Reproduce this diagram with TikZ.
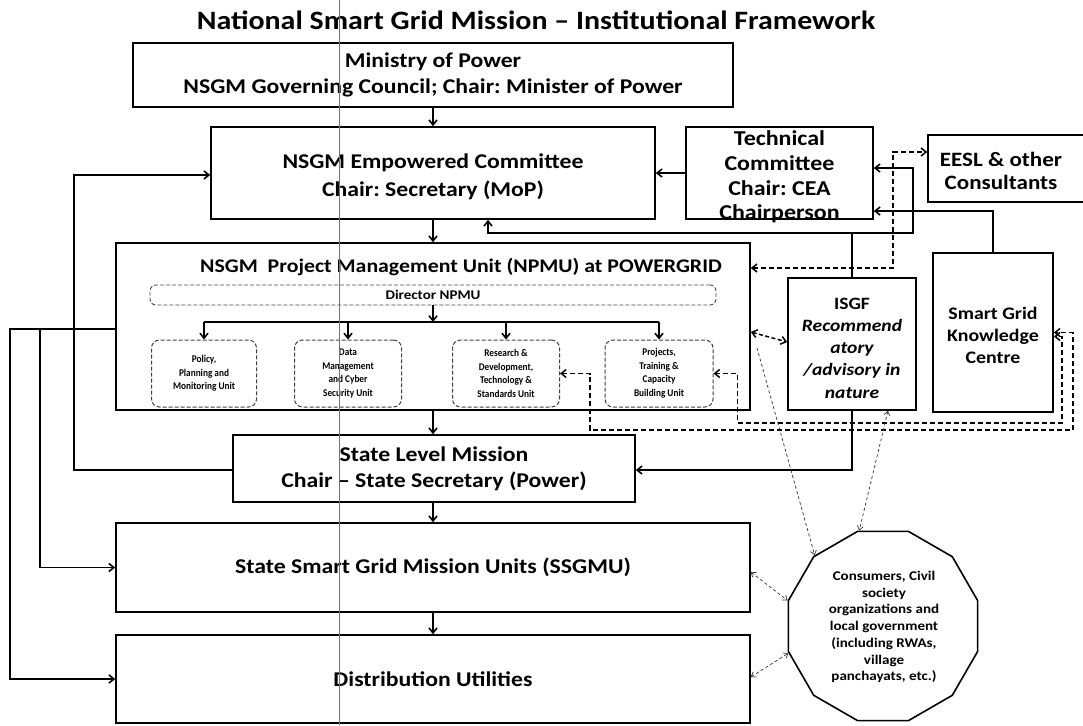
\documentclass[tikz,border=0pt]{standalone}
\usepackage{fontspec}
\setmainfont{Carlito}[FakeStretch=1.13]
\newfontfamily\unitfont{Carlito}[FakeStretch=0.9]
\usetikzlibrary{arrows.meta,shapes.geometric}
\frenchspacing
\begin{document}
\begin{tikzpicture}[x=1pt,y=-1pt,
  box/.style={draw=black, line width=1.6pt, inner sep=0pt, align=center},
  bigtxt/.style={font=\fontsize{21}{26}\selectfont\bfseries},
  unitbox/.style={draw=black!75, dash pattern=on 4pt off 2pt, line width=1pt, rounded corners=8pt, inner sep=0pt, align=center, font=\unitfont\fontsize{10.3}{13.5}\selectfont\bfseries},
  tip/.tip={Straight Barb[length=5pt,width=8pt]},
  smalltip/.tip={Straight Barb[length=4pt,width=6pt]},
  conn/.style={line width=1.6pt, -tip},
  plainline/.style={line width=1.6pt},
  dconn/.style={line width=1.5pt, dash pattern=on 5pt off 3pt, tip-tip},
  dotconn/.style={line width=0.7pt, black!80, dash pattern=on 3pt off 2.5pt, smalltip-smalltip},
  dotone/.style={line width=0.7pt, black!80, dash pattern=on 3pt off 2.5pt, -smalltip},
]
\useasboundingbox (0,0) rectangle (1083,725);
\fill[white] (0,0) rectangle (1083,725);

% title
\node[font=\fontsize{26.5}{30}\selectfont\bfseries] (title) at (536,20) {National Smart Grid Mission – Institutional Framework};

% main boxes
\node[box,bigtxt,minimum width=600,minimum height=64] (mop) at (433,75) {Ministry of Power\\NSGM Governing Council; Chair: Minister of Power};
\node[box,minimum width=444,minimum height=92,
  label={[font=\fontsize{21}{28}\selectfont\bfseries,align=center,yshift=-4pt]center:NSGM Empowered Committee\\Chair: Secretary (MoP)}] (ec) at (433,173) {};
\node[box,minimum width=187,minimum height=92,
  label={[font=\fontsize{21.2}{24.7}\selectfont\bfseries,align=center,yshift=-4pt]center:Technical\\Committee\\Chair: CEA\\Chairperson}] (tc) at (779.5,173) {};
\node[box,minimum width=170,minimum height=67] (eesl) at (1013,168.5) {};
\node[font=\fontsize{20.4}{23}\selectfont\bfseries,align=center] (eesltxt) at (1001,171) {EESL \& other\\Consultants};

% NPMU
\node[box,minimum width=634,minimum height=167] (npmu) at (433,326.5) {};
\node[font=\fontsize{19.3}{22}\selectfont\bfseries] (npmutitle) at (461,267) {NSGM\ \ Project Management Unit (NPMU) at POWERGRID};
\node[draw=black!70, dash pattern=on 4pt off 2pt, line width=0.9pt, rounded corners=6pt, minimum width=566, minimum height=20, inner sep=0pt, font=\fontsize{13.3}{16}\selectfont\bfseries] (dir) at (433,295) {Director NPMU};
\node[unitbox,minimum width=105,minimum height=67] (u1) at (204,373.5) {Policy,\\Planning and\\Monitoring Unit};
\node[unitbox,minimum width=107,minimum height=67] (u2) at (348,373.5) {Data\\Management\\and Cyber\\Security Unit};
\node[unitbox,minimum width=107,minimum height=67] (u3) at (506,373.5) {Research \&\\Development,\\Technology \&\\Standards Unit};
\node[unitbox,minimum width=108,minimum height=67] (u4) at (659,373.5) {Projects,\\Training \&\\Capacity\\Building Unit};

% right side boxes
\node[box,minimum width=128,minimum height=132,
  label={[font=\fontsize{17.3}{22.3}\selectfont\bfseries,align=center,yshift=-4pt]center:ISGF\\\itshape Recommend\\\itshape atory\\\itshape /advisory in\\\itshape nature}] (isgf) at (852,344) {};
\node[box,minimum width=120,minimum height=159,
  label={[font=\fontsize{17.6}{22}\selectfont\bfseries,align=center,yshift=-2.5pt]center:Smart Grid\\Knowledge\\Centre}] (sgkc) at (993,332.5) {};

% lower boxes
\node[box,bigtxt,minimum width=402,minimum height=67] (slm) at (434,468.5) {State Level Mission\\Chair – State Secretary (Power)};
\node[box,bigtxt,minimum width=634,minimum height=89] (ssgmu) at (433,567.5) {State Smart Grid Mission Units (SSGMU)};
\node[box,bigtxt,minimum width=634,minimum height=88] (du) at (433,679) {Distribution Utilities};

% consumers polygon
\node[draw=black, line width=1.6pt, regular polygon, regular polygon sides=12, minimum size=196, inner sep=0pt] (cons) at (883,626) {};
\node[font=\fontsize{13.3}{16.7}\selectfont\bfseries, align=center] (constxt) at (884,627) {Consumers, Civil\\society\\organizations and\\local government\\(including RWAs,\\village\\panchayats, etc.)};

% vertical main flow
\draw[conn] (mop.south) -- (ec.north);
\draw[conn] (ec.south) -- (npmu.north);
\draw[conn] (npmu.south) -- (npmu.south |- slm.north);
\draw[conn] (npmu.south |- slm.south) -- (npmu.south |- ssgmu.north);
\draw[conn] (ssgmu.south) -- (du.north);
\draw[conn] (tc.west) -- (ec.east);

% director bus
\coordinate (bus) at (433,322);
\draw[conn] (dir.south) -- (bus);
\draw[plainline] (u1.north |- bus) -- (u4.north |- bus);
\foreach \u in {u1,u2,u3,u4} \draw[conn] (\u.north |- bus) -- (\u.north);

% ISGF links to EC and TC
\coordinate (jt) at (852,233);
\draw[plainline] (isgf.north) -- (jt);
\draw[conn] (jt) -| ([xshift=55pt]ec.south);
\draw[conn] (jt) -- ++(61,0) |- ([yshift=5pt]tc.east);
\draw[conn] (sgkc.north) |- ([yshift=-38pt]tc.east);

% ISGF to SLM, SLM to EC
\draw[conn] (isgf.south) |- ([yshift=-1.5pt]slm.east);
\draw[conn] ([yshift=-1.5pt]slm.west) -- ++(-158,0) |- ([yshift=-2pt]ec.west);

% NPMU to SSGMU and DU
\coordinate (nl) at ([yshift=-2.5pt]npmu.west);
\draw[plainline] (nl) -- ++(-105,0);
\draw[conn] (nl) -- ++(-75,0) |- (ssgmu.west);
\draw[conn] (nl) -- ++(-105,0) |- (du.west);

% dashed links
\draw[dconn] ([yshift=58.5pt]npmu.east) -| (893,152) -- ([yshift=16.5pt]eesl.west);
\draw[dconn, dash pattern=on 4pt off 2.5pt] ([yshift=-5.5pt]npmu.east) -- ([yshift=2pt]isgf.west);
\draw[dconn] (u3.east) -- ++(30,0) |- (1073,430) |- (sgkc.east);
\draw[dconn] (u4.east) -- ++(24,0) |- (1062,423) |- ([yshift=-4pt]sgkc.east);

% dotted links to consumers
\coordinate (dstart) at (757,348);
\draw[dotone] (dstart) -- (cons.134);
\draw[dotconn] ([xshift=36pt]isgf.south) -- (cons.104);
\draw[dotconn] ([yshift=-4.5pt]ssgmu.east) -- (cons.165);
\draw[dotconn] ([yshift=2pt]du.east) -- (cons.196);

% scan line
\draw[black!55, line width=0.5pt] (339,0) -- (339,725);
\end{tikzpicture}
\end{document}
